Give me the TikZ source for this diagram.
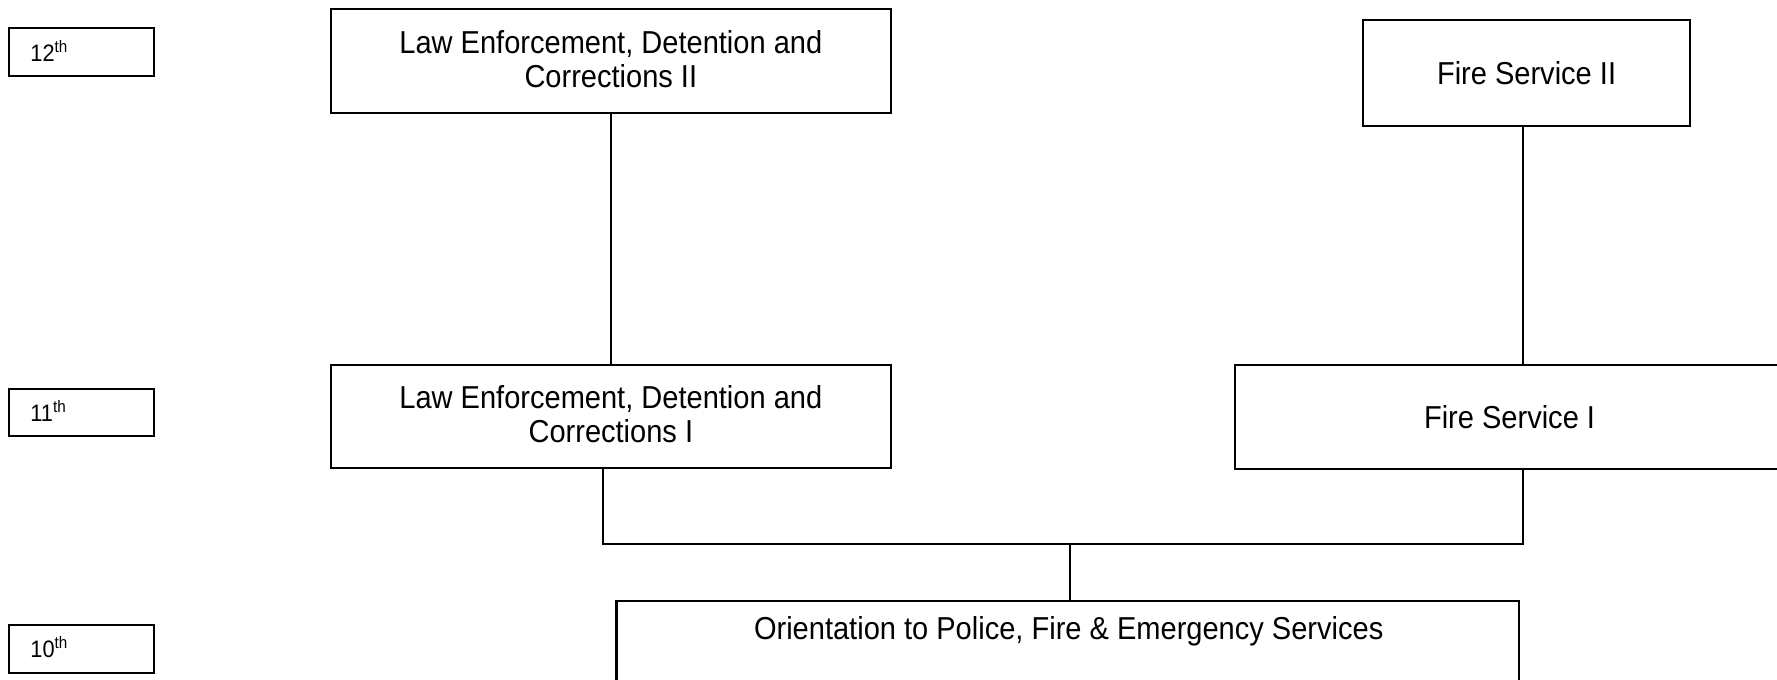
\documentclass[tikz,border=0pt]{standalone}
\usepackage{fontspec}
\setmainfont[FakeStretch=0.915]{Liberation Sans}
\begin{document}
\begin{tikzpicture}[x=0.5pt,y=-0.5pt,
  box/.style={draw, line width=0.9pt, inner sep=0pt, align=center, font=\fontsize{14}{15}\selectfont},
  lab/.style={draw, line width=0.9pt, inner sep=0pt, minimum width=64pt, minimum height=21pt},
  labtxt/.style={anchor=base west, inner sep=0pt, font=\fontsize{10.5}{12}\selectfont},
  conn/.style={line width=0.7pt}]
\fill[white] (0,0) rectangle (1568,600);
\useasboundingbox (0,0) rectangle (1568,600);
\clip (0,0) rectangle (1568,600);
% grade labels
\node[lab] (g12) at (72,46) {};
\node[labtxt] (g12t) at (26.5,54) {12\textsuperscript{th}};
\node[lab] (g11) at (72,364) {};
\node[labtxt] (g11t) at (26.5,372) {11\textsuperscript{th}};
\node[lab] (g10) at (72,572.5) {};
\node[labtxt] (g10t) at (26.5,580.5) {10\textsuperscript{th}};
% course boxes
\node[box, minimum width=247pt, minimum height=46pt, text depth=2pt] (leII) at (539,54) {Law Enforcement, Detention and\\Corrections II};
\node[box, minimum width=144pt, minimum height=46.5pt] (fsII) at (1347,64.5) {Fire Service II};
\node[box, minimum width=247pt, minimum height=45.5pt, text depth=2pt] (leI) at (539,367.5) {Law Enforcement, Detention and\\Corrections I};
\node[box, minimum width=242pt, minimum height=46pt] (fsI) at (1332,368) {Fire Service I};
\node[box, minimum width=398pt, minimum height=55pt] (or) at (942,585) {};
\node[inner sep=0pt, font=\fontsize{14}{15}\selectfont] (ortxt) at (943,557) {Orientation to Police, Fire \& Emergency Services};
% connectors
\coordinate (fsbus) at (1344,480);
\coordinate (lebus) at (532,480);
\coordinate (mid) at (944,480);
\draw[conn] (leII.south) -- (leI.north);
\draw[conn] (fsII.south -| fsbus) -- (fsI.north -| fsbus);
\draw[conn] (leI.south -| lebus) -- (lebus) -- (fsbus) -- (fsI.south -| fsbus);
\draw[conn] (mid) -- (or.north -| mid);
\end{tikzpicture}
\end{document}
